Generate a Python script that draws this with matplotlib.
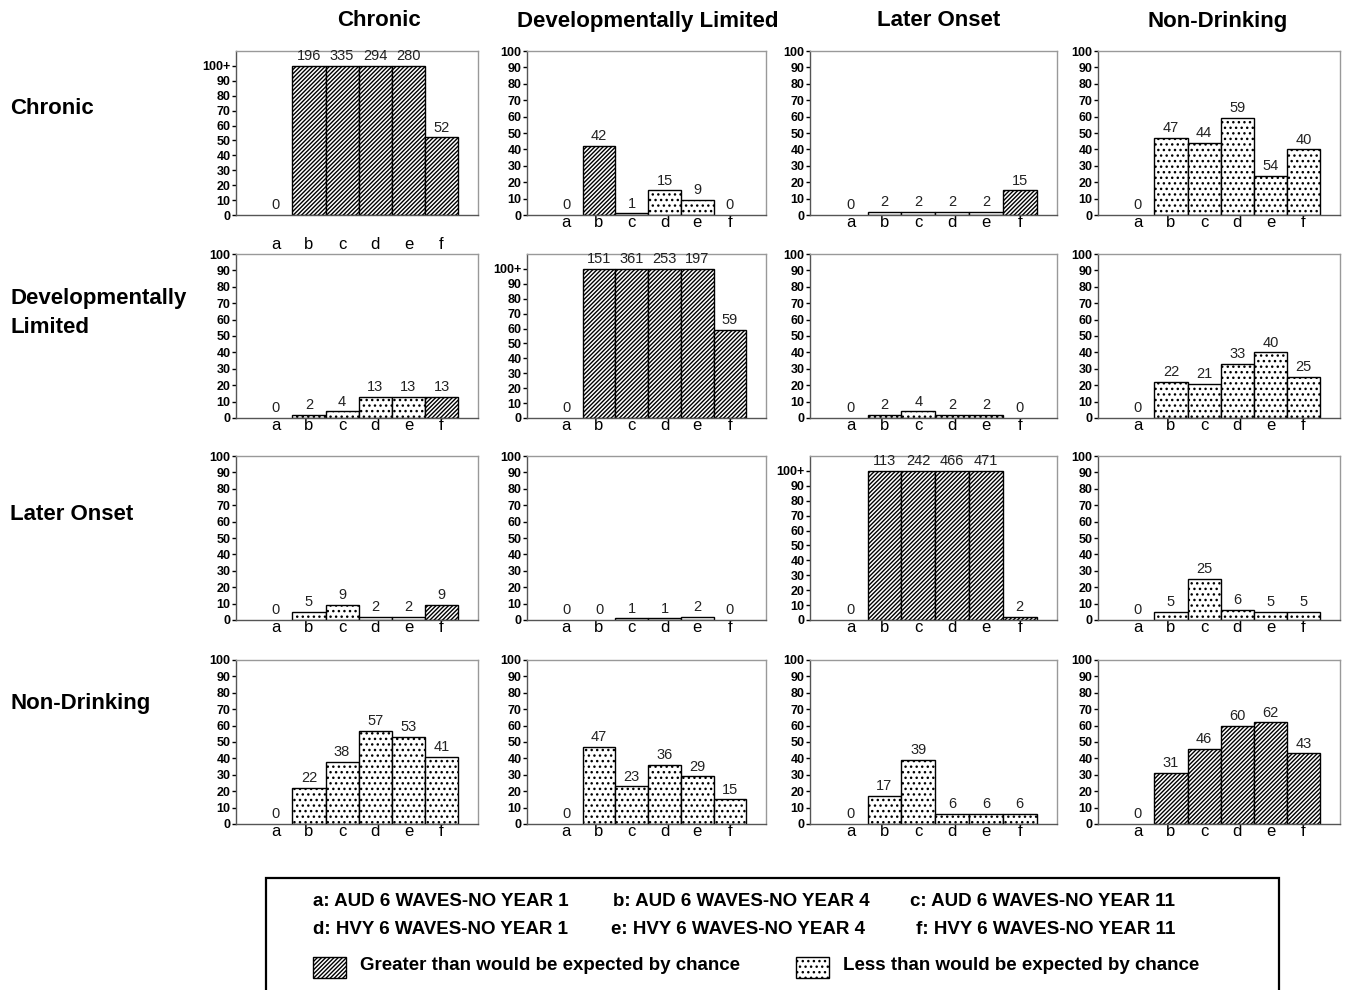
import matplotlib
matplotlib.use("Agg")
import matplotlib.pyplot as plt
from matplotlib.patches import Rectangle

plt.rcParams['font.family'] = ['Liberation Sans', 'DejaVu Sans']
plt.rcParams['hatch.linewidth'] = 1.0

W, H = 1347, 990

groups = ["Chronic", "Developmentally Limited", "Later Onset", "Non-Drinking"]
row_labels = ["Chronic", "Developmentally\nLimited", "Later Onset", "Non-Drinking"]
categories = ["a", "b", "c", "d", "e", "f"]

# values shown above bars (rows = row group, cols = column group)
chronic_row = [
    [0, 196, 335, 294, 280, 52],
    [0, 42, 1, 15, 9, 0],
    [0, 2, 2, 2, 2, 15],
    [0, 47, 44, 59, 54, 40],
]
devlim_row = [
    [0, 2, 4, 13, 13, 13],
    [0, 151, 361, 253, 197, 59],
    [0, 2, 4, 2, 2, 0],
    [0, 22, 21, 33, 40, 25],
]
later_row = [
    [0, 5, 9, 2, 2, 9],
    [0, 0, 1, 1, 2, 0],
    [0, 113, 242, 466, 471, 2],
    [0, 5, 25, 6, 5, 5],
]
nondrink_row = [
    [0, 22, 38, 57, 53, 41],
    [0, 47, 23, 36, 29, 15],
    [0, 17, 39, 6, 6, 6],
    [0, 31, 46, 60, 62, 43],
]
values = [chronic_row, devlim_row, later_row, nondrink_row]

# G = greater than expected by chance, L = less than expected
chronic_pat = ["-GGGGG", "-GLLL-", "-LLLLG", "-LLLLL"]
devlim_pat = ["-LLLLG", "-GGGGG", "-LLLL-", "-LLLLL"]
later_pat = ["-LLLLG", "--LLL-", "-GGGGG", "-LLLLL"]
nondrink_pat = ["-LLLLL", "-LLLLL", "-LLLLL", "-GGGGG"]
patterns = [chronic_pat, devlim_pat, later_pat, nondrink_pat]

# drawn bar height differs from printed label in one panel of the original
bar_height_override = {(0, 3): [0, 47, 44, 59, 24, 40]}

legend_items = [
    "a: AUD 6 WAVES-NO YEAR 1", "b: AUD 6 WAVES-NO YEAR 4", "c: AUD 6 WAVES-NO YEAR 11",
    "d: HVY 6 WAVES-NO YEAR 1", "e: HVY 6 WAVES-NO YEAR 4", "f: HVY 6 WAVES-NO YEAR 11",
]
legend_kinds = ["Greater than would be expected by chance", "Less than would be expected by chance"]

HATCH_G = "////////"
HATCH_L = "..."

fig = plt.figure(figsize=(W / 100, H / 100), dpi=100)

left_px = [236, 527, 810, 1098]
right_px = [478, 766, 1057, 1340]
top_px = [51, 254, 456, 660]
bot_px = [215, 418, 620, 824]


def px_axes(l, t, r, b):
    return fig.add_axes([l / W, 1 - b / H, (r - l) / W, (b - t) / H])


for i in range(4):
    for j in range(4):
        ax = px_axes(left_px[j], top_px[i], right_px[j], bot_px[i])
        vals = values[i][j]
        pat = patterns[i][j]
        over = any(v > 100 for v in vals)
        heights = bar_height_override.get((i, j), [min(v, 100) for v in vals])
        for k, (v, h, p) in enumerate(zip(vals, heights, pat)):
            if p != "-" and h > 0:
                ax.bar(k, h, width=1.0, facecolor="white", edgecolor="black",
                       linewidth=1.0, hatch=HATCH_G if p == "G" else HATCH_L, zorder=2)
            ax.annotate(str(v), (k, h), xytext=(0, 2), textcoords="offset points",
                        ha="center", va="bottom", fontsize=10.5, color="#222222", zorder=3)
        ax.set_xlim(-1.2, 6.1)
        if over:
            ax.set_ylim(0, 110)
        else:
            ax.set_ylim(0, 100)
        yt = list(range(0, 101, 10))
        ax.set_yticks(yt)
        ax.set_yticklabels([str(t) if (t < 100 or not over) else "100+" for t in yt],
                           fontsize=9, fontweight="bold")
        ax.set_xticks(range(6))
        ax.set_xticklabels(categories, fontsize=12)
        pad = 16 if (i == 0 and j == 0) else 0
        ax.tick_params(axis="x", length=0, pad=pad)
        ax.tick_params(axis="y", length=3, width=1, direction="out", pad=1)
        for s in ["top", "right"]:
            ax.spines[s].set_color("#999999")
            ax.spines[s].set_linewidth(1.0)
        for s in ["left", "bottom"]:
            ax.spines[s].set_color("#555555")
            ax.spines[s].set_linewidth(1.0)

# column titles
col_title_x = [379, 648, 939, 1218]
for x, g in zip(col_title_x, groups):
    fig.text(x / W, 1 - 21 / H, g, ha="center", va="center", fontsize=16, fontweight="bold")

# row labels
row_label_y = [108, 313, 515, 704]
for y, g in zip(row_label_y, row_labels):
    fig.text(10 / W, 1 - y / H, g, ha="left", va="center", fontsize=16, fontweight="bold",
             linespacing=1.55)

# legend box
box = Rectangle((266 / W, 1 - 994 / H), (1279 - 266) / W, (994 - 878) / H,
                transform=fig.transFigure, facecolor="white", edgecolor="black", linewidth=1.6)
fig.patches.append(box)
lx = [313, 613, 910, 313, 611, 916]
ly = [901, 901, 901, 930, 930, 930]
for x, y, t in zip(lx, ly, legend_items):
    fig.text(x / W, 1 - y / H, t, ha="left", va="center", fontsize=13.5, fontweight="bold")
swatch_x = [313, 796]
text_x = [360, 843]
for sx, tx, t, hch in zip(swatch_x, text_x, legend_kinds, [HATCH_G, HATCH_L]):
    r = Rectangle((sx / W, 1 - 978 / H), 33 / W, 21 / H, transform=fig.transFigure,
                  facecolor="white", edgecolor="black", linewidth=1.0, hatch=hch)
    fig.patches.append(r)
    fig.text(tx / W, 1 - 965 / H, t, ha="left", va="center", fontsize=13.5, fontweight="bold")

fig.savefig("out.png", dpi=100, facecolor="white")
